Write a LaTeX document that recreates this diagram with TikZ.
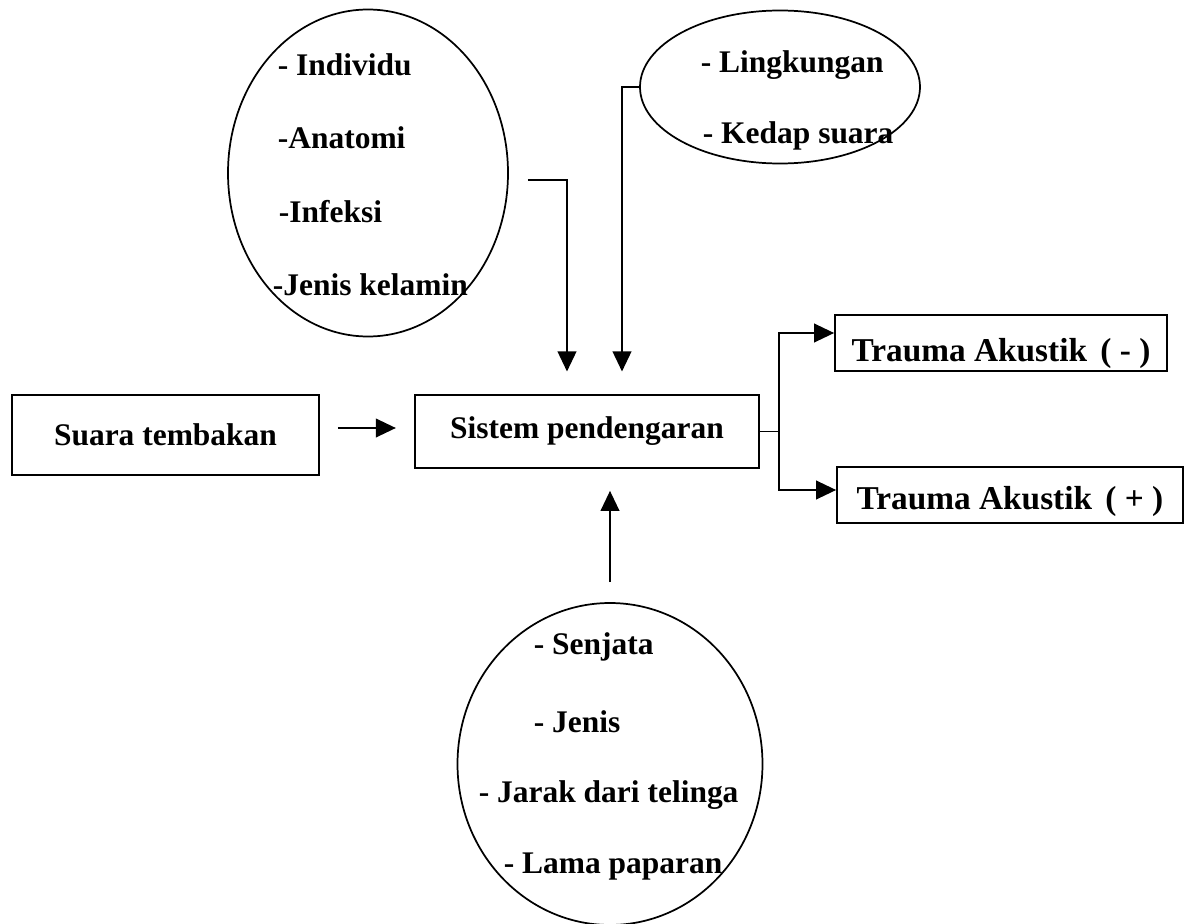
\documentclass[tikz,border=0pt]{standalone}
\usepackage{fontspec}
\setmainfont{Liberation Serif}
\usetikzlibrary{shapes.geometric,arrows.meta}
\tikzset{every picture/.style={line width=1.3pt}}

\begin{document}
\begin{tikzpicture}[x=0.75pt,y=0.75pt,yscale=-1,xscale=1,
  teks/.style={anchor=west,inner sep=0pt,font=\fontsize{23.6}{28}\selectfont\bfseries},
  kotak/.style={draw,rectangle,inner sep=0pt,font=\fontsize{23.6}{28}\selectfont\bfseries},
  hasil/.style={kotak,font=\fontsize{25}{30}\selectfont\bfseries,text depth=5pt},
  lonjong/.style={draw,ellipse,inner sep=0pt},
  panah/.style={-{Triangle[length=15pt,width=14pt]}}]
%set diagram left start at 0, and has height of 924
\fill[white] (0,0) rectangle (1186,924);
\useasboundingbox (0,0) rectangle (1186,924);

%Shape: Ellipse
\node[lonjong,minimum width=210pt,minimum height=245.25pt] (faktorindividu) at (368,173) {};
%Shape: Ellipse
\node[lonjong,minimum width=210pt,minimum height=114.75pt] (lingkungan) at (780,87) {};
%Shape: Ellipse
\node[lonjong,minimum width=228.75pt,minimum height=241.5pt] (senjata) at (610,764) {};

%Shape: Rectangle
\node[kotak,minimum width=230.25pt,minimum height=60pt] (suara) at (165.5,435) {Suara tembakan};
%Shape: Rectangle
\node[kotak,minimum width=258pt,minimum height=54.75pt] (sistem) at (587,431.5) {Sistem pendengaran};
%Shape: Rectangle
\node[hasil,minimum width=249pt,minimum height=42pt,text height=33pt] (negatif) at (1001,343) {Trauma Akustik\hspace{.4em}( - )};
%Shape: Rectangle
\node[hasil,minimum width=259.5pt,minimum height=42pt,text height=26pt] (positif) at (1010,495) {Trauma Akustik\hspace{.4em}( + )};

%Straight Lines
\draw[panah] ([xshift=13.5pt,yshift=-5.25pt]suara.east) -- ++(58,0);
%Elbow Lines
\draw[panah,shorten >=17pt] ([xshift=14.25pt,yshift=5.25pt]faktorindividu.east) -| ([xshift=-15pt]sistem.north);
%Elbow Lines
\draw[panah,shorten >=17pt] (lingkungan.west) -| ([xshift=26.25pt]sistem.north);
%Straight Lines
\draw[panah,shorten <=15pt,shorten >=16.5pt] (senjata.north) -- (senjata.north |- sistem.south);
%Elbow Lines
\coordinate (cabang) at ([xshift=14.25pt]sistem.east);
\draw (sistem.east) -- (cabang);
\draw[panah] (cabang) |- ([yshift=-7.5pt]negatif.west);
\draw[panah] (cabang) |- ([yshift=-3.75pt]positif.west);

% Text Node
\node[teks] (individu) at (277,65) {- Individu};
% Text Node
\node[teks] (anatomi) at (277,138) {-Anatomi};
% Text Node
\node[teks] (infeksi) at (278,212) {-Infeksi};
% Text Node
\node[teks] (kelamin) at (272,285) {-Jenis kelamin};
% Text Node
\node[teks] (lingk) at (700,65) {- Lingkungan};
% Text Node
\node[teks] (kedap) at (702,136) {- Kedap suara};
% Text Node
\node[teks] (senj) at (533,647) {- Senjata};
% Text Node
\node[teks] (jenis) at (533,722) {- Jenis};
% Text Node
\node[teks] (jarak) at (478,795) {- Jarak dari telinga};
% Text Node
\node[teks] (lama) at (503,867) {- Lama paparan};
\end{tikzpicture}
\end{document}
